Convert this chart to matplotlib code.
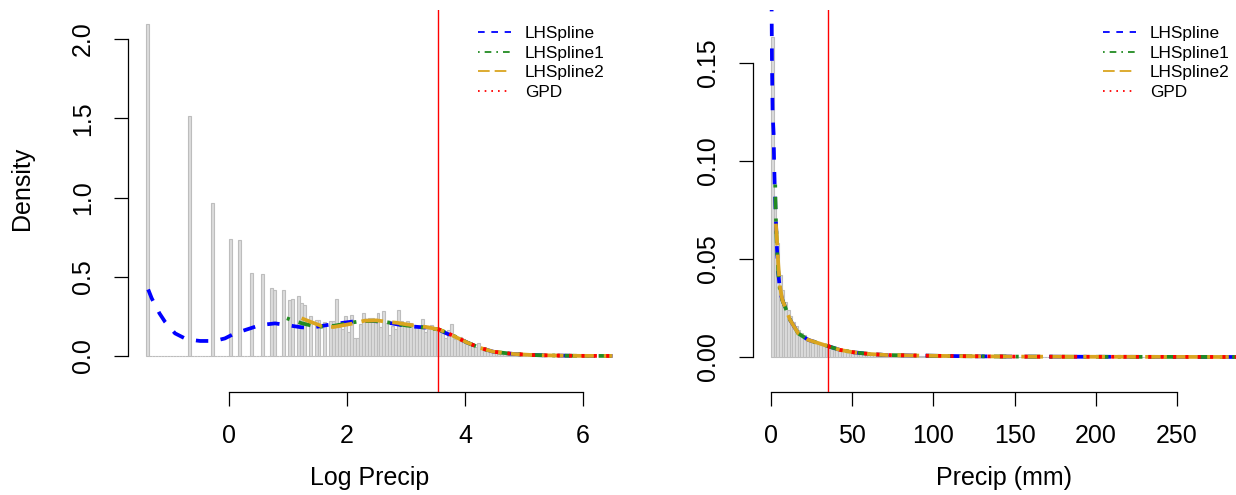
import matplotlib
matplotlib.use("Agg")
import matplotlib.pyplot as plt
from matplotlib.lines import Line2D
import numpy as np

plt.rcParams['font.family'] = ['Liberation Sans', 'DejaVu Sans']
plt.rcParams['lines.scale_dashes'] = False

# ---------------- data: left panel (log precip) ----------------
left_bin_width = 0.05
left_bin_start = -1.40
# sparse spikes (quantised low values)
left_spike_x = [-1.40, -0.70, -0.30, 0.00, 0.15, 0.35, 0.55]
left_spike_h = [2.094, 1.514, 0.967, 0.738, 0.734, 0.524, 0.519]
# dense part: bins of 0.05 from 0.70 upward
left_dense_start = 0.70
left_dense_h = [
    0.427, 0.416, 0.0, 0.0, 0.418, 0.0, 0.353, 0.360, 0.0, 0.379,
    0.336, 0.320, 0.0, 0.254, 0.0, 0.230, 0.230, 0.0, 0.212, 0.0,
    0.220, 0.220, 0.362, 0.185, 0.172, 0.252, 0.150, 0.259, 0.115, 0.115,
    0.200, 0.269, 0.233, 0.238, 0.238, 0.221, 0.269, 0.185, 0.284, 0.210,
    0.130, 0.190, 0.172, 0.290, 0.220, 0.200, 0.220, 0.210, 0.196, 0.190,
    0.190, 0.231, 0.151, 0.168, 0.193, 0.179, 0.179, 0.170, 0.164, 0.111,
    0.164, 0.200, 0.105, 0.111, 0.122, 0.107, 0.097, 0.084, 0.063, 0.055,
    0.080, 0.042, 0.038, 0.034, 0.027, 0.021, 0.017, 0.013, 0.013, 0.010,
    0.009, 0.007, 0.006, 0.005, 0.005, 0.004, 0.003, 0.003, 0.003, 0.002,
    0.002, 0.002, 0.002, 0.001, 0.001, 0.001, 0.001, 0.001, 0.001, 0.0,
    0.001, 0.0, 0.0, 0.001, 0.0, 0.0,
]
left_threshold = 3.54

left_blue_x = [-1.37, -1.31, -1.18, -1.085, -0.915, -0.746, -0.60, -0.49, -0.32, -0.19,
               -0.07, 0.10, 0.356, 0.525, 0.78, 0.98, 1.23, 1.40, 1.656, 1.94,
               2.22, 2.45, 2.70, 3.01, 3.29, 3.41, 3.55, 3.69, 3.83, 4.03,
               4.25, 4.48, 4.82, 5.16, 5.55, 5.95, 6.5]
left_blue_y = [0.420, 0.364, 0.270, 0.216, 0.143, 0.111, 0.100, 0.095, 0.095, 0.100,
               0.111, 0.143, 0.174, 0.195, 0.206, 0.195, 0.181, 0.179, 0.195, 0.210,
               0.223, 0.221, 0.210, 0.189, 0.181, 0.177, 0.167, 0.142, 0.120, 0.086,
               0.052, 0.027, 0.013, 0.006, 0.003, 0.001, 0.0005]
left_green_x = [0.98, 1.10, 1.25, 1.40, 1.60, 1.80, 2.00, 2.20, 2.45, 2.70,
                3.00, 3.30, 3.55, 3.70, 3.85, 4.03, 4.25, 4.48, 4.82, 5.16,
                5.55, 5.95, 6.5]
left_green_y = [0.238, 0.222, 0.205, 0.192, 0.184, 0.192, 0.206, 0.218, 0.222, 0.212,
                0.193, 0.180, 0.168, 0.145, 0.120, 0.086, 0.052, 0.027, 0.013, 0.006,
                0.003, 0.001, 0.0005]
left_gold_x = [1.23, 1.40, 1.57, 1.77, 1.95, 2.11, 2.30, 2.50, 2.67, 2.84,
               3.00, 3.21, 3.38, 3.55, 3.66, 3.83, 4.03, 4.25, 4.48, 4.82,
               5.16, 5.55, 5.95, 6.5]
left_gold_y = [0.238, 0.213, 0.189, 0.183, 0.195, 0.206, 0.223, 0.225, 0.216, 0.210,
               0.200, 0.189, 0.181, 0.167, 0.153, 0.122, 0.086, 0.052, 0.027, 0.013,
               0.006, 0.003, 0.001, 0.0005]
left_red_x = [3.54, 3.66, 3.83, 4.03, 4.25, 4.48, 4.82, 5.16, 5.55, 5.95, 6.5]
left_red_y = [0.170, 0.153, 0.122, 0.086, 0.052, 0.027, 0.013, 0.006, 0.003, 0.001, 0.0005]

# ---------------- data: right panel (precip mm) ----------------
right_bin_width = 1.65
right_h = [
    0.163, 0.080, 0.058, 0.042, 0.034, 0.028, 0.024, 0.021, 0.018, 0.016,
    0.014, 0.012, 0.011, 0.0098, 0.0088, 0.0080, 0.0073, 0.0066, 0.0060, 0.0055,
    0.0051, 0.0047, 0.0043, 0.0040, 0.0036, 0.0033, 0.0030, 0.0028, 0.0026, 0.0024,
    0.0022, 0.0020, 0.0019, 0.0017, 0.0016, 0.0015, 0.0014, 0.0013, 0.0012, 0.0011,
    0.0010, 0.0010, 0.0009, 0.0008, 0.0008, 0.0007, 0.0007, 0.0006, 0.0006, 0.0005,
    0.0005, 0.0005, 0.0004, 0.0004, 0.0004, 0.0003, 0.0003, 0.0003, 0.0003, 0.0002,
    0.0002, 0.0002, 0.0002, 0.0002, 0.0001, 0.0001, 0.0001, 0.0001, 0.0001, 0.0001,
    0.0001, 0.0001, 0.0, 0.0001, 0.0, 0.0, 0.0001, 0.0, 0.0, 0.0,
    0.0001, 0.0, 0.0, 0.0, 0.0, 0.0, 0.0001, 0.0, 0.0, 0.0,
    0.0, 0.0, 0.0, 0.0, 0.0, 0.0, 0.0, 0.0, 0.0, 0.0,
    0.0, 0.0, 0.0, 0.0, 0.0, 0.0, 0.0, 0.0, 0.0, 0.0,
    0.0, 0.0, 0.0, 0.0, 0.0, 0.0, 0.0, 0.0, 0.0, 0.0,
    0.0, 0.0, 0.0, 0.0, 0.0, 0.0, 0.0, 0.0, 0.0, 0.0,
    0.0, 0.0, 0.0, 0.0, 0.0, 0.0, 0.0, 0.0, 0.0, 0.0,
    0.0, 0.0, 0.0, 0.0, 0.0, 0.0, 0.0, 0.0, 0.0, 0.0,
    0.0, 0.0, 0.0, 0.0, 0.0, 0.0, 0.0, 0.0, 0.0, 0.0,
    0.0, 0.0, 0.0, 0.0, 0.0, 0.0, 0.0,
]
right_threshold = 35.0

right_blue_x = [0.3, 0.45, 0.6, 0.8, 1.0, 1.6, 1.9, 2.3, 2.7, 3.1, 3.7, 4.5, 5.5, 7.0,
                8.6, 11.7, 16.8, 23.0, 31.0, 36.0, 42.5, 50.7, 61.0, 71.0, 92.0,
                120.0, 150.0, 200.0, 250.0, 290.0]
right_blue_y = [0.190, 0.170, 0.150, 0.137, 0.124, 0.114, 0.100, 0.087, 0.077, 0.068,
                0.055, 0.043, 0.034, 0.029, 0.0257, 0.019, 0.012, 0.0087, 0.0066,
                0.0053, 0.0036, 0.0024, 0.0015, 0.0010, 0.0007, 0.0004, 0.0002,
                0.0001, 0.00005, 0.0]
right_green_x = [2.6, 2.8, 3.1, 3.7, 4.5, 5.5, 7.0, 8.6, 11.7, 16.8, 23.0, 31.0, 36.0,
                 42.5, 50.7, 61.0, 71.0, 92.0, 120.0, 150.0, 200.0, 250.0, 290.0]
right_green_y = [0.088, 0.078, 0.068, 0.055, 0.043, 0.034, 0.029, 0.0257, 0.019, 0.012,
                 0.0087, 0.0066, 0.0053, 0.0036, 0.0024, 0.0015, 0.0010, 0.0007, 0.0004,
                 0.0002, 0.0001, 0.00005, 0.0]
right_gold_x = [3.0, 3.5, 4.5, 5.5, 7.0, 8.6, 11.7, 16.8, 23.0, 31.0, 36.0, 42.5, 50.7,
                61.0, 71.0, 92.0, 120.0, 150.0, 200.0, 250.0, 290.0]
right_gold_y = [0.068, 0.062, 0.047, 0.036, 0.029, 0.0257, 0.019, 0.012, 0.0087, 0.0066,
                0.0053, 0.0036, 0.0024, 0.0015, 0.0010, 0.0007, 0.0004, 0.0002, 0.0001,
                0.00005, 0.0]
right_red_x = [35.0, 36.0, 42.5, 50.7, 61.0, 71.0, 92.0, 120.0, 150.0, 200.0, 250.0, 290.0]
right_red_y = [0.0056, 0.0053, 0.0036, 0.0024, 0.0015, 0.0010, 0.0007, 0.0004, 0.0002,
               0.0001, 0.00005, 0.0]

legend_labels = ["LHSpline", "LHSpline1", "LHSpline2", "GPD"]
left_xticks = [0, 2, 4, 6]
left_yticks = [0.0, 0.5, 1.0, 1.5, 2.0]
right_xticks = [0, 50, 100, 150, 200, 250]
right_yticks = [0.00, 0.05, 0.10, 0.15]

# ---------------- styling ----------------
W, H = 1236, 495
fig = plt.figure(figsize=(W / 100, H / 100), dpi=100)

def ax_at(x0, x1, ytop, ybot):
    return fig.add_axes([x0 / W, 1 - ybot / H, (x1 - x0) / W, (ybot - ytop) / H])

colors = ["#0000ff", "#228b22", "#daa520", "#ff0000"]
plot_styles = [(0, (8.9, 8.9)), (0, (2.2, 6.7, 8.9, 6.7)), (0, (15.6, 6.7)), (0, (2.2, 6.7))]
leg_styles = [(0, (4.8, 4.8)), (0, (1.2, 3.6, 4.8, 3.6)), (0, (8.4, 3.6)), (0, (1.2, 3.6))]
LW = 2.7
FS = 18
bar_face = "#dcdcdc"
bar_edge = "#bdbdbd"

def style_axis(ax, xt, yt, xfmt, yfmt):
    for s in ["top", "right"]:
        ax.spines[s].set_visible(False)
    ax.spines["left"].set_bounds(yt[0], yt[-1])
    ax.spines["bottom"].set_bounds(xt[0], xt[-1])
    for s in ["left", "bottom"]:
        ax.spines[s].set_linewidth(0.9)
    ax.set_xticks(xt)
    ax.set_yticks(yt)
    ax.set_xticklabels([xfmt.format(v) for v in xt])
    ax.set_yticklabels([yfmt.format(v) for v in yt], rotation=90, va="center")
    ax.tick_params(axis="both", direction="out", length=10, width=0.9, labelsize=FS)
    ax.tick_params(axis="x", pad=13)
    ax.tick_params(axis="y", pad=14)

def draw_curves(ax, xs_list, ys_list):
    for xs, ys, c, ls in zip(xs_list, ys_list, colors, plot_styles):
        ax.plot(xs, ys, color=c, lw=LW, linestyle=ls, dash_capstyle="butt",
                solid_capstyle="butt", zorder=3)

def draw_legend(ax, x_px, ytop_px):
    handles = [Line2D([0], [0], color=c, lw=1.3, linestyle=ls, dash_capstyle="butt")
               for c, ls in zip(colors, leg_styles)]
    ax.legend(handles, legend_labels, loc="upper left",
              bbox_to_anchor=(x_px / W, 1 - ytop_px / H), bbox_transform=fig.transFigure,
              frameon=False, fontsize=12.4, handlelength=1.92, handletextpad=0.8,
              labelspacing=0.27, borderpad=0, borderaxespad=0)

# ---- left panel ----
axL = ax_at(128, 613, 10, 392)
n_left = int(round((6.20 - left_bin_start) / left_bin_width))
left_edges = [left_bin_start + i * left_bin_width for i in range(n_left)]
left_heights = [0.0] * n_left
for x, h in zip(left_spike_x, left_spike_h):
    left_heights[int(round((x - left_bin_start) / left_bin_width))] = h
off = int(round((left_dense_start - left_bin_start) / left_bin_width))
for i, h in enumerate(left_dense_h):
    if off + i < n_left:
        left_heights[off + i] = h
axL.bar(left_edges, left_heights, width=left_bin_width, align="edge",
        color=bar_face, edgecolor=bar_edge, linewidth=0.8, zorder=1)
draw_curves(axL, [left_blue_x, left_green_x, left_gold_x, left_red_x],
            [left_blue_y, left_green_y, left_gold_y, left_red_y])
axL.axvline(left_threshold, color="#ff0000", lw=1.0, zorder=4)
axL.set_xlim(-1.712, 6.508)
axL.set_ylim(-0.227, 2.183)
style_axis(axL, left_xticks, left_yticks, "{:d}", "{:.1f}")
axL.set_xlabel("Log Precip", fontsize=FS, va="center")
axL.set_ylabel("Density", fontsize=FS, va="center")
axL.xaxis.set_label_coords((370 - 128) / (613 - 128), -(478 - 392) / (392 - 10))
axL.yaxis.set_label_coords(-(128 - 22) / (613 - 128), (392 - 188) / (392 - 10))
draw_legend(axL, 478, 26)

# ---- right panel ----
axR = ax_at(753, 1236, 10, 392)
right_edges = [i * right_bin_width for i in range(len(right_h))]
axR.bar(right_edges, right_h, width=right_bin_width, align="edge",
        color=bar_face, edgecolor=bar_edge, linewidth=0.8, zorder=1)
draw_curves(axR, [right_blue_x, right_green_x, right_gold_x, right_red_x],
            [right_blue_y, right_green_y, right_gold_y, right_red_y])
axR.axvline(right_threshold, color="#ff0000", lw=1.0, zorder=4)
axR.set_xlim(-11.08, 286.3)
axR.set_ylim(-0.01786, 0.177)
style_axis(axR, right_xticks, right_yticks, "{:d}", "{:.2f}")
axR.set_xlabel("Precip (mm)", fontsize=FS, va="center")
axR.xaxis.set_label_coords((1004 - 753) / (1236 - 753), -(478 - 392) / (392 - 10))
draw_legend(axR, 1103, 26)

fig.savefig("out.png", dpi=100)
